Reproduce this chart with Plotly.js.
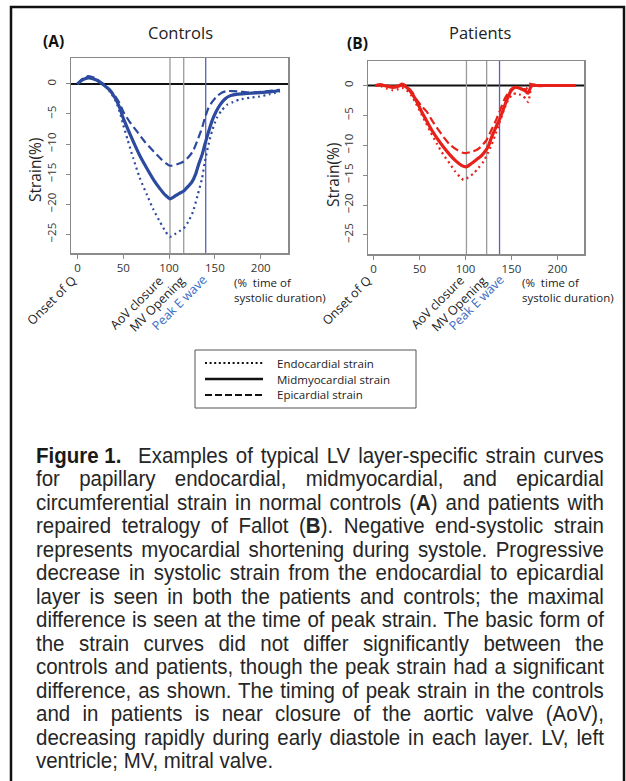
<!DOCTYPE html>
<html><head><meta charset="utf-8">
<script src="https://cdn.plot.ly/plotly-3.0.1.min.js"></script>
<style>html,body{margin:0;padding:0;background:#fff;}#chart{width:626px;height:781px;}</style>
</head><body><div id="chart"></div>
<script>
// ---------- DATA ----------
// Controls (A)
const ctrlMidX  = [0,6,12,20,28,35,41,46,50,55,61,68,76,83,90,96,101,105,110,116,121,125,129,132,136,139,143,147,151,156,161,167,175,185,195,203,212,221];
const ctrlMidY  = [0,0.7,1.0,0.7,-0.1,-1.0,-2.3,-3.9,-5.7,-7.5,-9.6,-11.9,-14.1,-15.9,-17.4,-18.5,-19.1,-18.8,-18.3,-17.8,-17.0,-16.3,-15.0,-13.5,-11.8,-10.1,-8.0,-6.1,-4.7,-3.4,-2.5,-1.95,-1.7,-1.6,-1.5,-1.4,-1.3,-1.1];
const ctrlEpiX  = [0,6,12,20,28,35,41,46,50,57,65,74,83,92,101,108,116,121,126,131,136,139,143,147,152,157,163,170,178,185,193,203,212,221];
const ctrlEpiY  = [0,0.9,1.3,0.9,0,-0.9,-2.0,-3.2,-4.6,-6.3,-7.9,-9.7,-11.2,-12.6,-13.6,-13.4,-12.9,-12.2,-11.2,-9.4,-7.3,-5.7,-4.0,-3.0,-2.1,-1.5,-1.2,-1.2,-1.3,-1.4,-1.4,-1.3,-1.1,-1.0];
const ctrlEndoX = [0,6,12,20,28,35,42,46,50,55,61,68,76,83,90,96,101,106,111,116,121,126,131,136,139,143,147,152,157,163,170,177,188,199,210,221];
const ctrlEndoY = [0,0.8,1.2,0.8,0,-1.2,-2.9,-4.6,-6.8,-9.4,-12.4,-15.6,-18.5,-20.9,-22.9,-24.5,-25.4,-25.0,-24.5,-24.0,-22.9,-21.3,-18.6,-15.7,-13.0,-10.1,-7.8,-5.7,-4.5,-3.5,-3.0,-2.6,-2.3,-2.1,-1.7,-1.3];
// Patients (B)
const patMidX  = [2,7,14,21,27,31,35,38,42,47,52,58,63,69,76,83,90,96,101,106,112,117,121,125,128,133,137.5,142,146.5,150,154,158,161,165,168,170,172,177,190,205,220];
const patMidY  = [0,0.1,-0.1,-0.3,-0.1,0.1,-0.2,-0.6,-1.4,-2.7,-4.3,-6.0,-7.4,-8.8,-10.3,-11.6,-12.7,-13.4,-13.6,-13.1,-12.4,-11.8,-11.1,-10.1,-8.8,-7.0,-5.5,-3.6,-1.8,-0.8,-0.3,-0.4,-0.6,-0.9,-1.3,-0.6,0.1,0,0,0,0];
const patEpiX  = [2,7,14,21,27,31,35,38,42,47,52,58,63,69,76,83,90,96,101,106,112,117,123,128,134,139,143,148,152,156,159,163,166,168,170,173,177,190,205,220];
const patEpiY  = [0,0.2,0,-0.2,0,0.3,0,-0.4,-1.1,-2.4,-3.4,-4.4,-5.7,-7.1,-8.6,-9.9,-10.7,-11.2,-11.3,-11.1,-10.8,-10.2,-9.1,-7.5,-5.5,-3.6,-2.1,-0.9,-0.3,-0.4,-0.5,-0.6,-0.6,-0.1,0.3,0.1,0,0,0,0];
const patEndoX = [2,8,14,21,27,31,36,41.6,46,50.7,56,61.6,69,76,83,88.8,94,97.8,103,108.7,114,119.6,124,128.4,133,137.5,142,146.5,151,155.5,159,162.7,166,168.2,170,171.8,175,190,205,220];
const patEndoY = [0,-0.1,-0.5,-0.8,-0.6,-0.4,-0.8,-1.8,-3.0,-4.4,-6.0,-7.7,-9.8,-11.6,-13.1,-14.4,-15.3,-15.8,-15.4,-14.7,-13.8,-12.7,-11.4,-9.9,-8.0,-6.0,-4.0,-2.4,-1.5,-1.3,-1.5,-1.8,-2.3,-2.8,-1.5,-0.2,0,0,0,0];
// Event markers (% time of systolic duration)
const eventLabels = ["Onset of Q","AoV closure","MV Opening","Peak E wave"];
const ctrlEvents  = [0,101,116,140];
const patEvents   = [0,101,123,137];
const xTicks = [0,50,100,150,200];
const yTicks = [0,-5,-10,-15,-20,-25];
const layerNames = ["Endocardial strain","Midmyocardial strain","Epicardial strain"];
const captionBold = "Figure 1.";
const captionLines = [
 "Examples of typical LV layer-specific strain curves",
 "for papillary endocardial, midmyocardial, and epicardial",
 "circumferential strain in normal controls (<b>A</b>) and patients with",
 "repaired tetralogy of Fallot (<b>B</b>). Negative end-systolic strain",
 "represents myocardial shortening during systole. Progressive",
 "decrease in systolic strain from the endocardial to epicardial",
 "layer is seen in both the patients and controls; the maximal",
 "difference is seen at the time of peak strain. The basic form of",
 "the strain curves did not differ significantly between the",
 "controls and patients, though the peak strain had a significant",
 "difference, as shown. The timing of peak strain in the controls",
 "and in patients is near closure of the aortic valve (AoV),",
 "decreasing rapidly during early diastole in each layer. LV, left",
 "ventricle; MV, mitral valve."
];

// ---------- STYLE ----------
const W=626,H=781;
const px=x=>x/W, py=y=>1-y/H;
const FONT="Open Sans, Liberation Sans, sans-serif";
const CAPFONT="Liberation Sans, Arial, sans-serif";
const BLUE="#2c4a9e", RED="#e8201a", GREY="#9a9a9a", EBLUE="#5a62b4";
const DOT="2px,3.5px", DASH="8px,4px";

function tr(x,y,color,kind,xa,ya){
  const line={color:color,shape:'spline',smoothing:0.6};
  if(kind==='solid'){line.width=3.2;}
  else if(kind==='dash'){line.width=2.2;line.dash=DASH;}
  else {line.width=2.2;line.dash=DOT;}
  return {x:x,y:y,type:'scatter',mode:'lines',line:line,xaxis:xa,yaxis:ya,showlegend:false,hoverinfo:'skip'};
}
const data=[
  tr(ctrlEndoX,ctrlEndoY,BLUE,'dot','x','y'),
  tr(ctrlEpiX,ctrlEpiY,BLUE,'dash','x','y'),
  tr(ctrlMidX,ctrlMidY,BLUE,'solid','x','y'),
  tr(patEndoX,patEndoY,RED,'dot','x2','y2'),
  tr(patEpiX,patEpiY,RED,'dash','x2','y2'),
  tr(patMidX,patMidY,RED,'solid','x2','y2')
];

function xax(dom){return {domain:dom,range:[-7,229.8],tickvals:xTicks,showline:true,mirror:true,linecolor:'#8a8a8a',linewidth:1.5,
  ticks:'outside',ticklen:4,tickcolor:'#8a8a8a',tickfont:{family:FONT,size:11.5,color:'#333'},showgrid:false,zeroline:false,fixedrange:true};}
function yax(dom,rng,anchor){return {domain:dom,range:rng,tickvals:yTicks,tickangle:-90,showline:true,mirror:true,linecolor:'#8a8a8a',linewidth:1.5,anchor:anchor,
  ticks:'outside',ticklen:4,tickcolor:'#8a8a8a',ticklabelstandoff:5,tickfont:{family:FONT,size:11.5,color:'#333'},showgrid:false,zeroline:false,fixedrange:true};}

const shapes=[];
// outer frame
shapes.push({type:'rect',xref:'paper',yref:'paper',x0:px(11),x1:px(624),y0:-0.02,y1:py(7),line:{color:'#111',width:2.5},layer:'above'});
[['x','y',ctrlEvents],['x2','y2',patEvents]].forEach(([xa,ya,ev])=>{
  shapes.push({type:'line',xref:xa+' domain',yref:ya,x0:0,x1:1,y0:0,y1:0,line:{color:'#111',width:2},layer:'below'});
  ev.slice(1).forEach((v,i)=>{
    shapes.push({type:'line',xref:xa,yref:ya+' domain',x0:v,x1:v,y0:0,y1:1,line:{color:i===2?EBLUE:GREY,width:1.3},layer:'below'});
  });
});
// legend box
shapes.push({type:'rect',xref:'paper',yref:'paper',x0:px(195),x1:px(416),y0:py(408),y1:py(350),line:{color:'#555',width:1}});
const legY=[363,379,395];
const legDash=['2px,2.6px','solid','7px,3px'];
legY.forEach((yy,i)=>{
  shapes.push({type:'line',xref:'paper',yref:'paper',x0:px(205),x1:px(263),y0:py(yy),y1:py(yy),line:{color:'#111',width:i===1?2.5:2.2,dash:legDash[i]}});
});

const ann=[];
function A(o){ann.push(Object.assign({showarrow:false,xref:'paper',yref:'paper'},o));}
A({x:px(180),y:py(33),text:'Controls',font:{family:FONT,size:16.5,color:'#222'},xanchor:'center',yanchor:'middle'});
A({x:px(480),y:py(33),text:'Patients',font:{family:FONT,size:16.5,color:'#222'},xanchor:'center',yanchor:'middle'});
A({x:px(53),y:py(41),text:'<b>(A)</b>',font:{family:FONT,size:15.5,color:'#111'},xanchor:'center',yanchor:'middle'});
A({x:px(357),y:py(43),text:'<b>(B)</b>',font:{family:FONT,size:15.5,color:'#111'},xanchor:'center',yanchor:'middle'});
A({x:px(35),y:py(170),text:'Strain(%)',textangle:-90,font:{family:FONT,size:15.5,color:'#222'},xanchor:'center',yanchor:'middle'});
A({x:px(333),y:py(175),text:'Strain(%)',textangle:-90,font:{family:FONT,size:15.5,color:'#222'},xanchor:'center',yanchor:'middle'});
const labelShift = {x:[5,0,8,8], x2:[4,4,7,11]};
[['x',ctrlEvents,232],['x2',patEvents,520]].forEach(([xa,ev,tx])=>{
  ev.forEach((v,i)=>{
    ann.push({showarrow:false,xref:xa,yref:'paper',x:v,xshift:labelShift[xa][i],y:py(269),text:eventLabels[i],textangle:-45,xanchor:'right',yanchor:'top',
      font:{family:FONT,size:12.5,color:i===3?'#3a6cc4':'#222'}});
  });
  A({x:px(tx),y:py(290),text:'(%  time of<br>systolic duration)',align:'left',xanchor:'left',yanchor:'middle',font:{family:FONT,size:11.5,color:'#222'}});
});
layerNames.forEach((n,i)=>A({x:px(275),y:py(legY[i]),text:n,xanchor:'left',yanchor:'middle',font:{family:FONT,size:11.5,color:'#222'}}));

// caption
const CAP0=455, CAPDY=23.5, CAPL=34, CAPR=602, CAPSZ=22, CAPX1=136;
const boldIdx=ann.length;
A({x:px(CAPL),y:py(CAP0),text:'<b>'+captionBold+'</b>',xanchor:'left',yanchor:'middle',font:{family:CAPFONT,size:CAPSZ,color:'#1a1a1a'}});
const capStart=ann.length;
captionLines.forEach((t,i)=>{
  A({x:px(i===0?CAPX1:CAPL),y:py(CAP0+CAPDY*i),text:t,xanchor:'left',yanchor:'middle',align:'left',font:{family:CAPFONT,size:CAPSZ,color:'#262626'}});
});

const layout={width:W,height:H,margin:{l:0,r:0,t:0,b:0},paper_bgcolor:'#fff',plot_bgcolor:'rgba(0,0,0,0)',showlegend:false,
  xaxis:xax([px(71),px(288)]),yaxis:yax([py(253),py(58)],[-28.1,4.3],'x'),
  xaxis2:Object.assign(xax([px(368),px(584)]),{anchor:'y2',range:[-6.1,228.9]}),yaxis2:yax([py(254),py(61)],[-28.2,4.1],'x2'),
  shapes:shapes,annotations:ann};

function txt(idx){return document.querySelector('.annotation[data-index="'+idx+'"] text.annotation-text');}
function justify(){
  const els=captionLines.map((t,i)=>txt(capStart+i));
  if(els.some(e=>!e)) return;
  const nat=els.map(e=>e.getComputedTextLength());
  const tgt=captionLines.map((t,i)=>CAPR-(i===0?CAPX1:CAPL));
  let s=1;
  for(let i=0;i<els.length-1;i++){ s=Math.min(s,tgt[i]/nat[i]); }
  s=s*0.985;
  const all=els.concat([txt(boldIdx)]);
  all.forEach(e=>{ if(!e) return; e.style.transformBox='fill-box'; e.style.transformOrigin='0% 50%'; e.style.transform='scaleX('+s+')'; });
  els.forEach((e,i)=>{
    if(i===els.length-1) return;
    const n=(e.textContent.match(/ /g)||[]).length;
    if(n>0) e.style.wordSpacing=((tgt[i]/s-nat[i])/n)+'px';
  });
}
Plotly.newPlot('chart',data,layout,{staticPlot:true,displayModeBar:false}).then(justify);
</script></body></html>
